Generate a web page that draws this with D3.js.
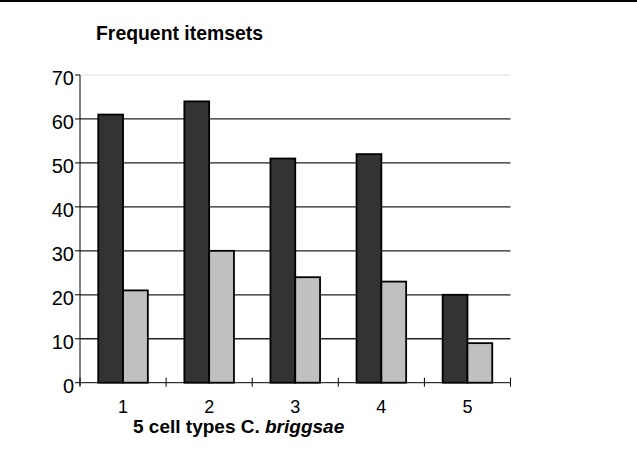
<!DOCTYPE html>
<html>
<head>
<meta charset="utf-8">
<script src="https://cdn.jsdelivr.net/npm/d3@7"></script>
<style>
    body { margin: 0; background: #fff; }
    text { font-family: Arial, "Liberation Sans", sans-serif; }
</style>
</head>
<body>
<div id="chart"></div>
<script>
var categories = ["1", "2", "3", "4", "5"];
var seriesNames = ["dark", "light"];
var darkValues = [61, 64, 51, 52, 20];
var lightValues = [21, 30, 24, 23, 9];
var yTicks = [0, 10, 20, 30, 40, 50, 60, 70];

var W = 637, H = 466;
var margin = { top: 75, left: 80, right: 126.5, bottom: 83.3 };
var width = W - margin.left - margin.right;
var height = H - margin.top - margin.bottom;

var svg = d3
    .select("#chart")
    .append("svg")
    .attr("width", W)
    .attr("height", H);

// top border line
svg.append("rect")
    .attr("x", 0).attr("y", 0)
    .attr("width", W).attr("height", 2)
    .attr("fill", "#000");

var g = svg.append("g")
    .attr("transform", "translate(" + margin.left + "," + margin.top + ")");

var x = d3.scaleBand().domain(categories).range([0, width]);
var x1 = d3.scaleBand().domain(seriesNames).range([0, x.bandwidth()]).paddingOuter(0.736);
var y = d3.scaleLinear().domain([0, 70]).range([height, 0]);

// gridlines
g.selectAll(".grid")
    .data(yTicks.filter((d) => d > 0))
    .enter()
    .append("line")
    .attr("x1", 0)
    .attr("x2", width)
    .attr("y1", (d) => y(d))
    .attr("y2", (d) => y(d))
    .attr("stroke", (d) => (d == 70 ? "#e8e8e8" : "#222"))
    .attr("stroke-width", 1.3);

// bars
var rows = categories.map((c, i) => ({ cat: c, dark: darkValues[i], light: lightValues[i] }));
var colors = { dark: "#333333", light: "#c0c0c0" };
rows.forEach(function (r) {
    seriesNames.forEach(function (s) {
        g.append("rect")
            .attr("x", x(r.cat) + x1(s))
            .attr("y", y(r[s]))
            .attr("width", x1.bandwidth())
            .attr("height", y(0) - y(r[s]))
            .attr("fill", colors[s])
            .attr("stroke", "#000")
            .attr("stroke-width", 1.8);
    });
});

// y axis
g.append("line")
    .attr("x1", 0).attr("x2", 0)
    .attr("y1", y(70)).attr("y2", y(0) + 3)
    .attr("stroke", "#000");
g.selectAll(".ytick")
    .data(yTicks)
    .enter()
    .append("line")
    .attr("x1", -5).attr("x2", 0)
    .attr("y1", (d) => y(d)).attr("y2", (d) => y(d))
    .attr("stroke", "#000");
g.selectAll(".ylab")
    .data(yTicks)
    .enter()
    .append("text")
    .attr("x", -6)
    .attr("y", (d) => y(d) + 10)
    .attr("text-anchor", "end")
    .attr("font-size", 20)
    .attr("fill", "#000")
    .text((d) => d);

// x axis
g.append("line")
    .attr("x1", 0).attr("x2", width)
    .attr("y1", y(0)).attr("y2", y(0))
    .attr("stroke", "#000");
g.selectAll(".xtick")
    .data(categories.map((c) => x(c)).concat([width]))
    .enter()
    .append("line")
    .attr("x1", (d) => d).attr("x2", (d) => d)
    .attr("y1", y(0) - 5).attr("y2", y(0) + 4)
    .attr("stroke", "#000");
g.selectAll(".xlab")
    .data(categories)
    .enter()
    .append("text")
    .attr("x", (d) => x(d) + x.bandwidth() / 2)
    .attr("y", y(0) + 30)
    .attr("text-anchor", "middle")
    .attr("font-size", 18)
    .attr("fill", "#000")
    .text((d) => d);

// titles
svg.append("text")
    .attr("x", 96)
    .attr("y", 40)
    .attr("font-size", 21)
    .attr("font-weight", "bold")
    .attr("textLength", 167)
    .attr("lengthAdjust", "spacingAndGlyphs")
    .text("Frequent itemsets");

var xt = svg.append("text")
    .attr("x", 133)
    .attr("y", 433)
    .attr("font-size", 19)
    .attr("font-weight", "bold");
xt.append("tspan").text("5 cell types C. ");
xt.append("tspan").attr("font-style", "italic").text("briggsae");
</script>
</body>
</html>
